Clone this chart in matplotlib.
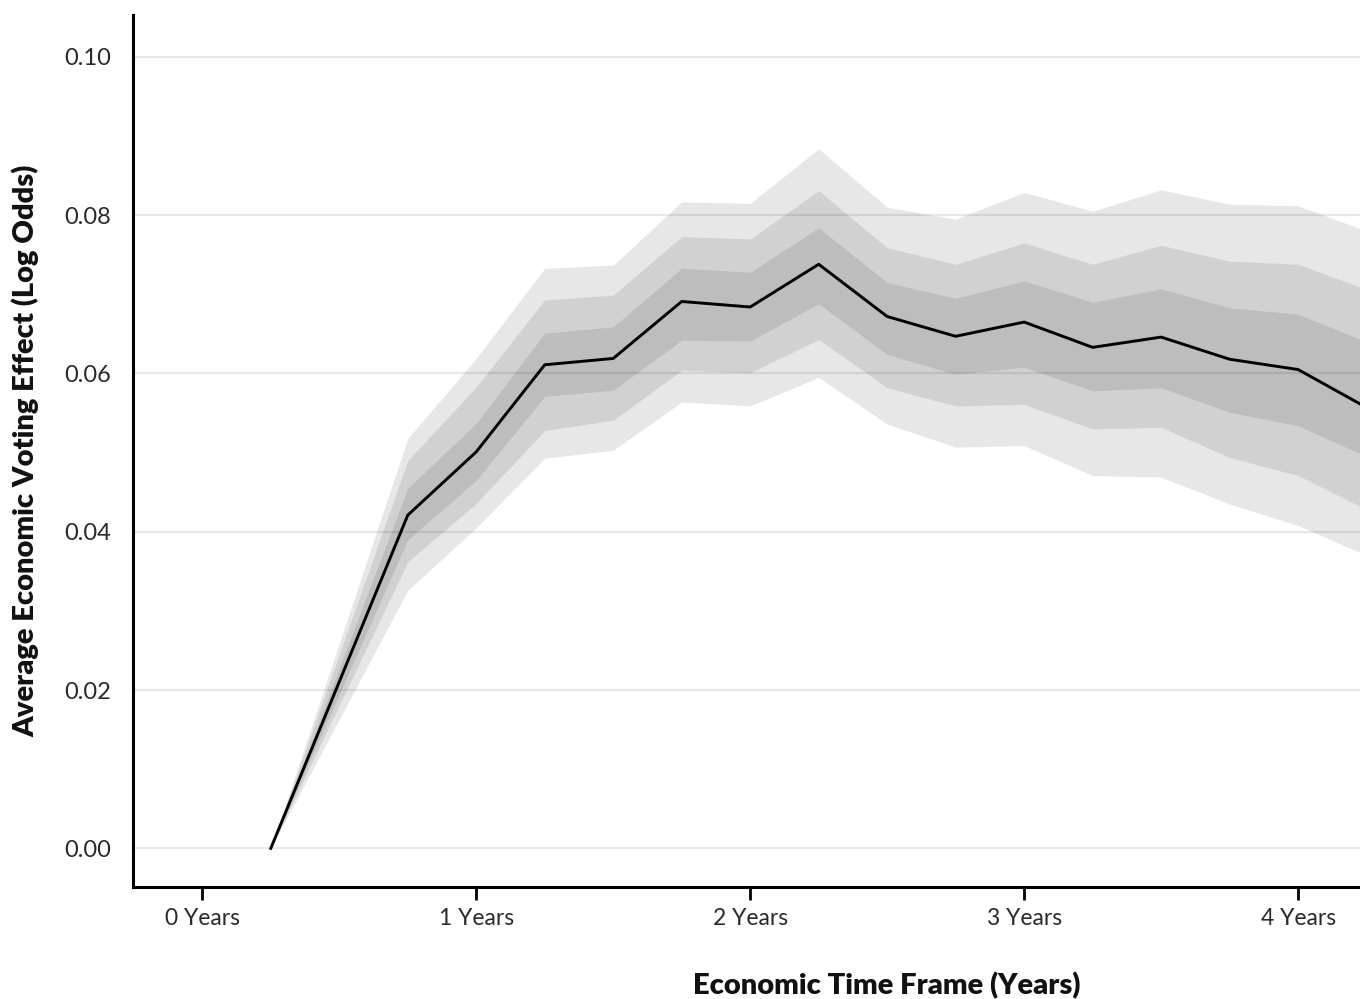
import matplotlib
matplotlib.use("Agg")
import matplotlib.pyplot as plt

# ---- data ----
years = [0.25, 0.75, 1.0, 1.25, 1.5, 1.75, 2.0, 2.25, 2.5, 2.75, 3.0, 3.25, 3.5, 3.75, 4.0, 4.25]
effect = [0.0, 0.0421, 0.0501, 0.0611, 0.0619, 0.0691, 0.0684, 0.0738, 0.0672, 0.0647,
          0.0665, 0.0633, 0.0646, 0.0618, 0.0605, 0.0557]
inner_lo = [0.0, 0.0390, 0.0465, 0.0571, 0.0579, 0.0642, 0.0641, 0.0688, 0.0624, 0.0599,
            0.0608, 0.0578, 0.0582, 0.0551, 0.0534, 0.0495]
inner_hi = [0.0, 0.0455, 0.0537, 0.0651, 0.0659, 0.0733, 0.0728, 0.0784, 0.0715, 0.0695,
            0.0717, 0.0690, 0.0707, 0.0683, 0.0675, 0.0640]
mid_lo = [0.0, 0.0362, 0.0436, 0.0528, 0.0541, 0.0604, 0.0601, 0.0643, 0.0582, 0.0559,
          0.0561, 0.0530, 0.0532, 0.0494, 0.0471, 0.0428]
mid_hi = [0.0, 0.0490, 0.0583, 0.0693, 0.0699, 0.0773, 0.0770, 0.0831, 0.0759, 0.0738,
          0.0765, 0.0738, 0.0762, 0.0742, 0.0738, 0.0706]
outer_lo = [0.0, 0.0326, 0.0405, 0.0493, 0.0503, 0.0564, 0.0559, 0.0595, 0.0536, 0.0507,
            0.0509, 0.0471, 0.0469, 0.0435, 0.0408, 0.0370]
outer_hi = [0.0, 0.0518, 0.0619, 0.0733, 0.0737, 0.0817, 0.0815, 0.0884, 0.0810, 0.0795,
            0.0829, 0.0805, 0.0832, 0.0814, 0.0812, 0.0780]

xticks = [0, 1, 2, 3, 4]
xtick_labels = ["0 Years", "1 Years", "2 Years", "3 Years", "4 Years"]
yticks = [0.00, 0.02, 0.04, 0.06, 0.08, 0.10]

FONT = "Lato"

fig = plt.figure(figsize=(13.6, 9.99), dpi=100, facecolor="white")
ax = fig.add_axes([0.098, 0.112, 0.902, 0.873])

# horizontal grid under the bands
for yv in yticks:
    ax.axhline(yv, color="#e8e8e8", lw=1.6, zorder=0)

# stacked translucent bands
for lo, hi in ((outer_lo, outer_hi), (mid_lo, mid_hi), (inner_lo, inner_hi)):
    ax.fill_between(years, lo, hi, color="black", alpha=0.095, lw=0, zorder=1)

ax.plot(years, effect, color="black", lw=2.1, zorder=3)

ax.set_xlim(-0.252, 4.226)
ax.set_ylim(-0.0049, 0.1053)

ax.set_yticks(yticks)
ax.set_yticklabels([f"{v:.2f}" for v in yticks], fontfamily=FONT, fontsize=17)
ax.set_xticks(xticks)
ax.set_xticklabels(xtick_labels, fontfamily=FONT, fontsize=16.5)
ax.tick_params(axis="y", length=0, pad=16, labelcolor="#2a2a2a")
ax.tick_params(axis="x", length=9, width=2, pad=6, color="black", labelcolor="#2a2a2a")

for s in ("top", "right"):
    ax.spines[s].set_visible(False)
for s in ("left", "bottom"):
    ax.spines[s].set_linewidth(2.2)
    ax.spines[s].set_color("black")

fig.text(887 / 1360, 1 - 986 / 999, "Economic Time Frame (Years)", fontfamily=FONT,
         fontweight="heavy", fontsize=21, ha="center", va="center", color="#111111")
ax.set_ylabel("Average Economic Voting Effect (Log Odds)", fontfamily=FONT,
              fontweight="heavy", fontsize=21, labelpad=18, color="#111111")

fig.savefig("out.png", dpi=100, facecolor="white")
